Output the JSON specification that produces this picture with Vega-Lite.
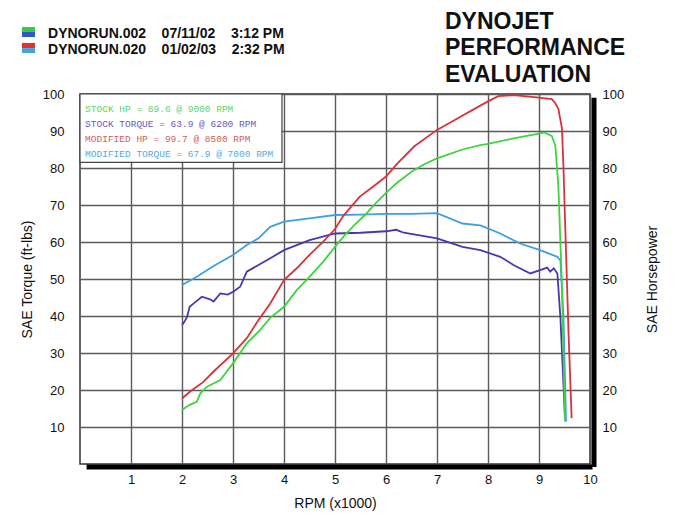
{
  "$schema": "https://vega.github.io/schema/vega-lite/v6.json",
  "width": 510,
  "height": 370,
  "autosize": "none",
  "padding": {"left": 80, "top": 94, "right": 110, "bottom": 63},
  "background": "white",
  "config": {
    "font": "Liberation Sans",
    "view": {"stroke": "#333333", "strokeWidth": 1.5},
    "axis": {
      "domain": false,
      "ticks": false,
      "grid": true,
      "gridColor": "#5a5a5a",
      "gridWidth": 1.4,
      "gridOpacity": 1,
      "labelFont": "Liberation Sans",
      "labelFontSize": 13,
      "labelColor": "#111111",
      "titleFont": "Liberation Sans",
      "titleFontSize": 14,
      "titleFontWeight": "normal",
      "titleColor": "#111111"
    }
  },
  "data": {"values": [{}]},
  "datasets": {
    "dyno": [
      {"series": "Stock HP", "rpm": 2.0, "value": 14.6},
      {"series": "Stock HP", "rpm": 2.15, "value": 16},
      {"series": "Stock HP", "rpm": 2.29, "value": 16.8},
      {"series": "Stock HP", "rpm": 2.36, "value": 19.1},
      {"series": "Stock HP", "rpm": 2.49, "value": 20.9},
      {"series": "Stock HP", "rpm": 2.75, "value": 22.7},
      {"series": "Stock HP", "rpm": 3.0, "value": 27.2},
      {"series": "Stock HP", "rpm": 3.27, "value": 32.6},
      {"series": "Stock HP", "rpm": 3.53, "value": 36.2},
      {"series": "Stock HP", "rpm": 3.73, "value": 39.5},
      {"series": "Stock HP", "rpm": 4.0, "value": 42.5},
      {"series": "Stock HP", "rpm": 4.25, "value": 47},
      {"series": "Stock HP", "rpm": 4.5, "value": 50.6},
      {"series": "Stock HP", "rpm": 4.77, "value": 54.7},
      {"series": "Stock HP", "rpm": 5.0, "value": 58.7},
      {"series": "Stock HP", "rpm": 5.2, "value": 62},
      {"series": "Stock HP", "rpm": 5.4, "value": 64.8},
      {"series": "Stock HP", "rpm": 5.6, "value": 67.5},
      {"series": "Stock HP", "rpm": 5.8, "value": 70.5},
      {"series": "Stock HP", "rpm": 6.0, "value": 73.3},
      {"series": "Stock HP", "rpm": 6.2, "value": 75.8},
      {"series": "Stock HP", "rpm": 6.5, "value": 79},
      {"series": "Stock HP", "rpm": 6.75, "value": 81},
      {"series": "Stock HP", "rpm": 7.0, "value": 82.6},
      {"series": "Stock HP", "rpm": 7.5, "value": 85},
      {"series": "Stock HP", "rpm": 7.85, "value": 86.2},
      {"series": "Stock HP", "rpm": 8.0, "value": 86.5},
      {"series": "Stock HP", "rpm": 8.5, "value": 88},
      {"series": "Stock HP", "rpm": 9.0, "value": 89.3},
      {"series": "Stock HP", "rpm": 9.1, "value": 89.6},
      {"series": "Stock HP", "rpm": 9.25, "value": 88.7},
      {"series": "Stock HP", "rpm": 9.32, "value": 86},
      {"series": "Stock HP", "rpm": 9.38, "value": 75},
      {"series": "Stock HP", "rpm": 9.45, "value": 48},
      {"series": "Stock HP", "rpm": 9.51, "value": 11.5},

      {"series": "Stock Torque", "rpm": 2.0, "value": 37.6},
      {"series": "Stock Torque", "rpm": 2.05, "value": 38.5},
      {"series": "Stock Torque", "rpm": 2.1, "value": 39.8},
      {"series": "Stock Torque", "rpm": 2.15, "value": 42.5},
      {"series": "Stock Torque", "rpm": 2.23, "value": 43.4},
      {"series": "Stock Torque", "rpm": 2.39, "value": 45.2},
      {"series": "Stock Torque", "rpm": 2.55, "value": 44.5},
      {"series": "Stock Torque", "rpm": 2.62, "value": 43.9},
      {"series": "Stock Torque", "rpm": 2.75, "value": 46.1},
      {"series": "Stock Torque", "rpm": 2.9, "value": 45.8},
      {"series": "Stock Torque", "rpm": 3.01, "value": 46.6},
      {"series": "Stock Torque", "rpm": 3.14, "value": 47.9},
      {"series": "Stock Torque", "rpm": 3.27, "value": 52},
      {"series": "Stock Torque", "rpm": 3.5, "value": 53.8},
      {"series": "Stock Torque", "rpm": 3.73, "value": 55.6},
      {"series": "Stock Torque", "rpm": 4.0, "value": 57.8},
      {"series": "Stock Torque", "rpm": 4.5, "value": 60.5},
      {"series": "Stock Torque", "rpm": 5.0, "value": 62.3},
      {"series": "Stock Torque", "rpm": 5.5, "value": 62.5},
      {"series": "Stock Torque", "rpm": 6.0, "value": 62.9},
      {"series": "Stock Torque", "rpm": 6.2, "value": 63.3},
      {"series": "Stock Torque", "rpm": 6.35, "value": 62.5},
      {"series": "Stock Torque", "rpm": 7.0, "value": 61},
      {"series": "Stock Torque", "rpm": 7.5, "value": 58.7},
      {"series": "Stock Torque", "rpm": 7.85, "value": 57.8},
      {"series": "Stock Torque", "rpm": 8.24, "value": 56},
      {"series": "Stock Torque", "rpm": 8.5, "value": 53.8},
      {"series": "Stock Torque", "rpm": 8.83, "value": 51.5},
      {"series": "Stock Torque", "rpm": 9.02, "value": 52.4},
      {"series": "Stock Torque", "rpm": 9.16, "value": 53.1},
      {"series": "Stock Torque", "rpm": 9.22, "value": 52},
      {"series": "Stock Torque", "rpm": 9.29, "value": 52.9},
      {"series": "Stock Torque", "rpm": 9.36, "value": 51.5},
      {"series": "Stock Torque", "rpm": 9.42, "value": 39.5},
      {"series": "Stock Torque", "rpm": 9.48, "value": 21.4},
      {"series": "Stock Torque", "rpm": 9.51, "value": 12},

      {"series": "Modified HP", "rpm": 2.0, "value": 17.7},
      {"series": "Modified HP", "rpm": 2.16, "value": 19.6},
      {"series": "Modified HP", "rpm": 2.42, "value": 22.2},
      {"series": "Modified HP", "rpm": 2.62, "value": 25},
      {"series": "Modified HP", "rpm": 3.0, "value": 29.9},
      {"series": "Modified HP", "rpm": 3.27, "value": 34},
      {"series": "Modified HP", "rpm": 3.5, "value": 38.9},
      {"series": "Modified HP", "rpm": 3.73, "value": 43.4},
      {"series": "Modified HP", "rpm": 4.0, "value": 49.7},
      {"series": "Modified HP", "rpm": 4.25, "value": 52.9},
      {"series": "Modified HP", "rpm": 4.5, "value": 56.5},
      {"series": "Modified HP", "rpm": 4.77, "value": 60.1},
      {"series": "Modified HP", "rpm": 5.0, "value": 63.5},
      {"series": "Modified HP", "rpm": 5.16, "value": 67},
      {"series": "Modified HP", "rpm": 5.48, "value": 72.2},
      {"series": "Modified HP", "rpm": 5.75, "value": 75},
      {"series": "Modified HP", "rpm": 6.0, "value": 77.7},
      {"series": "Modified HP", "rpm": 6.23, "value": 81.3},
      {"series": "Modified HP", "rpm": 6.55, "value": 85.8},
      {"series": "Modified HP", "rpm": 7.0, "value": 90.3},
      {"series": "Modified HP", "rpm": 7.4, "value": 93.4},
      {"series": "Modified HP", "rpm": 7.7, "value": 95.7},
      {"series": "Modified HP", "rpm": 8.0, "value": 98},
      {"series": "Modified HP", "rpm": 8.2, "value": 99.4},
      {"series": "Modified HP", "rpm": 8.5, "value": 99.7},
      {"series": "Modified HP", "rpm": 8.8, "value": 99.3},
      {"series": "Modified HP", "rpm": 9.0, "value": 99},
      {"series": "Modified HP", "rpm": 9.25, "value": 98.6},
      {"series": "Modified HP", "rpm": 9.32, "value": 97.5},
      {"series": "Modified HP", "rpm": 9.38, "value": 96},
      {"series": "Modified HP", "rpm": 9.45, "value": 90.7},
      {"series": "Modified HP", "rpm": 9.48, "value": 80},
      {"series": "Modified HP", "rpm": 9.51, "value": 66},
      {"series": "Modified HP", "rpm": 9.58, "value": 35},
      {"series": "Modified HP", "rpm": 9.64, "value": 12.4},

      {"series": "Modified Torque", "rpm": 2.0, "value": 48.4},
      {"series": "Modified Torque", "rpm": 2.29, "value": 50.6},
      {"series": "Modified Torque", "rpm": 2.62, "value": 53.5},
      {"series": "Modified Torque", "rpm": 3.0, "value": 56.5},
      {"series": "Modified Torque", "rpm": 3.27, "value": 59.2},
      {"series": "Modified Torque", "rpm": 3.5, "value": 61},
      {"series": "Modified Torque", "rpm": 3.73, "value": 64.1},
      {"series": "Modified Torque", "rpm": 4.0, "value": 65.5},
      {"series": "Modified Torque", "rpm": 4.5, "value": 66.4},
      {"series": "Modified Torque", "rpm": 5.0, "value": 67.3},
      {"series": "Modified Torque", "rpm": 5.5, "value": 67.4},
      {"series": "Modified Torque", "rpm": 6.0, "value": 67.6},
      {"series": "Modified Torque", "rpm": 6.5, "value": 67.6},
      {"series": "Modified Torque", "rpm": 7.0, "value": 67.8},
      {"series": "Modified Torque", "rpm": 7.5, "value": 65},
      {"series": "Modified Torque", "rpm": 7.85, "value": 64.5},
      {"series": "Modified Torque", "rpm": 8.24, "value": 62.3},
      {"series": "Modified Torque", "rpm": 8.63, "value": 59.6},
      {"series": "Modified Torque", "rpm": 9.02, "value": 57.8},
      {"series": "Modified Torque", "rpm": 9.36, "value": 56},
      {"series": "Modified Torque", "rpm": 9.42, "value": 55},
      {"series": "Modified Torque", "rpm": 9.48, "value": 39.5},
      {"series": "Modified Torque", "rpm": 9.53, "value": 11.4}
    ]
  },
  "resolve": {"axis": {"x": "independent", "y": "independent"}},
  "layer": [
    {
      "data": {"name": "dyno"},
      "transform": [{"filter": "indexof(datum.series, 'Torque') >= 0"}],
      "mark": {"type": "line", "strokeWidth": 1.8, "interpolate": "linear"},
      "encoding": {
        "x": {"field": "rpm", "type": "quantitative", "scale": {"domain": [0, 10], "nice": false, "zero": false},
              "axis": {"orient": "bottom", "values": [1,2,3,4,5,6,7,8,9,10], "title": "RPM (x1000)", "labelPadding": 9, "titlePadding": 10, "labelFlush": false}},
        "y": {"field": "value", "type": "quantitative", "scale": {"domain": [0, 100], "nice": false, "zero": false},
              "axis": {"orient": "left", "values": [10,20,30,40,50,60,70,80,90,100], "title": "SAE Torque (ft-lbs)", "labelPadding": 16, "titlePadding": 8, "labelFlush": false}},
        "color": {"field": "series", "type": "nominal",
                  "scale": {"domain": ["Stock HP", "Stock Torque", "Modified HP", "Modified Torque"], "range": ["#3fd43f", "#4a37b0", "#d8333b", "#3f9fe0"]},
                  "legend": null}
      }
    },
    {
      "data": {"name": "dyno"},
      "transform": [{"filter": "indexof(datum.series, 'HP') >= 0"}],
      "mark": {"type": "line", "strokeWidth": 1.8, "interpolate": "linear"},
      "encoding": {
        "x": {"field": "rpm", "type": "quantitative", "scale": {"domain": [0, 10], "nice": false, "zero": false}, "axis": null},
        "y": {"field": "value", "type": "quantitative", "scale": {"domain": [0, 100], "nice": false, "zero": false},
              "axis": {"orient": "right", "values": [10,20,30,40,50,60,70,80,90,100], "title": "SAE Horsepower", "labelPadding": 12, "titlePadding": 36, "titleAngle": 270, "labelFlush": false, "grid": false}},
        "color": {"field": "series", "type": "nominal", "legend": null}
      }
    },
    {
      "mark": {"type": "rect", "fill": "white", "stroke": "#444444", "strokeWidth": 1.2},
      "encoding": {
        "x": {"datum": 0, "type": "quantitative", "axis": null},
        "x2": {"datum": 3.96},
        "y": {"datum": 81.5, "type": "quantitative", "axis": null},
        "y2": {"datum": 100}
      }
    },
    {
      "mark": {"type": "text", "text": "STOCK HP = 89.6 @ 9000 RPM", "font": "Liberation Mono", "fontSize": 9.5, "align": "left", "baseline": "middle", "color": "#5cd85c"},
      "encoding": {"x": {"datum": 0.1, "type": "quantitative", "axis": null}, "y": {"datum": 95.9, "type": "quantitative", "axis": null}}
    },
    {
      "mark": {"type": "text", "text": "STOCK TORQUE = 63.9 @ 6200 RPM", "font": "Liberation Mono", "fontSize": 9.5, "align": "left", "baseline": "middle", "color": "#6a5ac0"},
      "encoding": {"x": {"datum": 0.1, "type": "quantitative", "axis": null}, "y": {"datum": 91.9, "type": "quantitative", "axis": null}}
    },
    {
      "mark": {"type": "text", "text": "MODIFIED HP = 99.7 @ 8500 RPM", "font": "Liberation Mono", "fontSize": 9.5, "align": "left", "baseline": "middle", "color": "#d0605c"},
      "encoding": {"x": {"datum": 0.1, "type": "quantitative", "axis": null}, "y": {"datum": 87.8, "type": "quantitative", "axis": null}}
    },
    {
      "mark": {"type": "text", "text": "MODIFIED TORQUE = 67.9 @ 7000 RPM", "font": "Liberation Mono", "fontSize": 9.5, "align": "left", "baseline": "middle", "color": "#55aadd"},
      "encoding": {"x": {"datum": 0.1, "type": "quantitative", "axis": null}, "y": {"datum": 83.8, "type": "quantitative", "axis": null}}
    },
    {
      "mark": {"type": "rule", "color": "#000000", "strokeWidth": 5, "xOffset": 4, "yOffset": 3, "strokeCap": "butt"},
      "encoding": {
        "x": {"datum": 10, "type": "quantitative", "axis": null},
        "y": {"datum": 0, "type": "quantitative", "axis": null},
        "y2": {"datum": 99}
      }
    },
    {
      "mark": {"type": "rule", "color": "#000000", "strokeWidth": 5, "xOffset": 4, "yOffset": 3, "strokeCap": "butt"},
      "encoding": {
        "y": {"datum": 0, "type": "quantitative", "axis": null},
        "x": {"datum": 0.05, "type": "quantitative", "axis": null},
        "x2": {"datum": 10.05}
      }
    },
    {
      "mark": {"type": "text", "text": ["DYNOJET", "PERFORMANCE", "EVALUATION"], "font": "Liberation Sans", "fontWeight": "bold", "fontSize": 23, "lineHeight": 26.5, "align": "left", "baseline": "alphabetic", "color": "#111111"},
      "encoding": {"x": {"datum": 7.157, "type": "quantitative", "axis": null}, "y": {"datum": 117.6, "type": "quantitative", "axis": null}}
    },
    {
      "mark": {"type": "text", "text": ["DYNORUN.002\u00a0\u00a0\u00a0\u00a007/11/02\u00a0\u00a0\u00a0\u00a03:12 PM", "DYNORUN.020\u00a0\u00a0\u00a0\u00a001/02/03\u00a0\u00a0\u00a0\u00a02:32 PM"], "font": "Liberation Sans", "fontWeight": "bold", "fontSize": 14, "lineHeight": 15.5, "align": "left", "baseline": "alphabetic", "color": "#111111"},
      "encoding": {"x": {"datum": -0.627, "type": "quantitative", "axis": null}, "y": {"datum": 115.1, "type": "quantitative", "axis": null}}
    },
    {
      "mark": {"type": "rect", "color": "#33cc44"},
      "encoding": {"x": {"datum": -1.137, "type": "quantitative", "axis": null}, "x2": {"datum": -0.882}, "y": {"datum": 118.1, "type": "quantitative", "axis": null}, "y2": {"datum": 116.76}}
    },
    {
      "mark": {"type": "rect", "color": "#3355cc"},
      "encoding": {"x": {"datum": -1.137, "type": "quantitative", "axis": null}, "x2": {"datum": -0.882}, "y": {"datum": 116.76, "type": "quantitative", "axis": null}, "y2": {"datum": 115.4}}
    },
    {
      "mark": {"type": "rect", "color": "#dd3333"},
      "encoding": {"x": {"datum": -1.137, "type": "quantitative", "axis": null}, "x2": {"datum": -0.882}, "y": {"datum": 113.8, "type": "quantitative", "axis": null}, "y2": {"datum": 112.4}}
    },
    {
      "mark": {"type": "rect", "color": "#44a0e0"},
      "encoding": {"x": {"datum": -1.137, "type": "quantitative", "axis": null}, "x2": {"datum": -0.882}, "y": {"datum": 112.4, "type": "quantitative", "axis": null}, "y2": {"datum": 111.08}}
    }
  ]
}
